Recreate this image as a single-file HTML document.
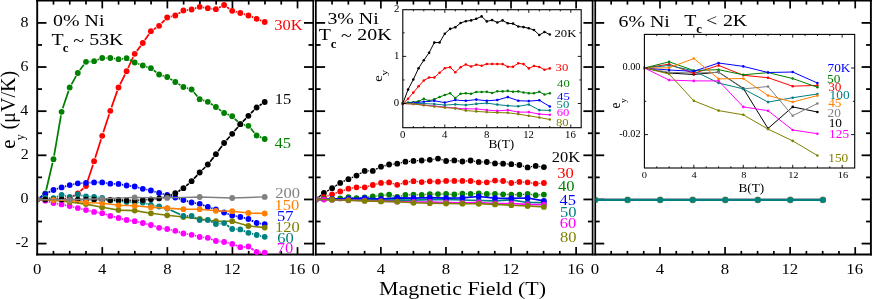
<!DOCTYPE html>
<html><head><meta charset="utf-8"><title>Nernst signal vs magnetic field</title>
<style>
html,body{margin:0;padding:0;background:#fff;}
body{width:872px;height:299px;overflow:hidden;font-family:"Liberation Serif",serif;}
svg{display:block;font-family:"Liberation Serif",serif;will-change:transform;}
svg text{white-space:pre;}
</style></head><body>
<svg width="872" height="299" viewBox="0 0 872 299">
<rect x="0" y="0" width="872" height="299" fill="#ffffff"/>
<defs><clipPath id="cp1"><rect x="38.10" y="2" width="274.30" height="253.50"/></clipPath><clipPath id="cp2"><rect x="316.70" y="2" width="275.10" height="253.50"/></clipPath><clipPath id="cp3"><rect x="595.80" y="2" width="274.20" height="253.50"/></clipPath></defs>
<line x1="53.47" y1="254.50" x2="53.47" y2="250.90" stroke="#000" stroke-width="1.7"/>
<line x1="53.47" y1="1.00" x2="53.47" y2="4.60" stroke="#000" stroke-width="1.7"/>
<line x1="69.74" y1="254.50" x2="69.74" y2="250.90" stroke="#000" stroke-width="1.7"/>
<line x1="69.74" y1="1.00" x2="69.74" y2="4.60" stroke="#000" stroke-width="1.7"/>
<line x1="86.01" y1="254.50" x2="86.01" y2="250.90" stroke="#000" stroke-width="1.7"/>
<line x1="86.01" y1="1.00" x2="86.01" y2="4.60" stroke="#000" stroke-width="1.7"/>
<line x1="102.28" y1="254.50" x2="102.28" y2="247.10" stroke="#000" stroke-width="1.7"/>
<line x1="102.28" y1="1.00" x2="102.28" y2="8.40" stroke="#000" stroke-width="1.7"/>
<line x1="118.55" y1="254.50" x2="118.55" y2="250.90" stroke="#000" stroke-width="1.7"/>
<line x1="118.55" y1="1.00" x2="118.55" y2="4.60" stroke="#000" stroke-width="1.7"/>
<line x1="134.82" y1="254.50" x2="134.82" y2="250.90" stroke="#000" stroke-width="1.7"/>
<line x1="134.82" y1="1.00" x2="134.82" y2="4.60" stroke="#000" stroke-width="1.7"/>
<line x1="151.09" y1="254.50" x2="151.09" y2="250.90" stroke="#000" stroke-width="1.7"/>
<line x1="151.09" y1="1.00" x2="151.09" y2="4.60" stroke="#000" stroke-width="1.7"/>
<line x1="167.36" y1="254.50" x2="167.36" y2="247.10" stroke="#000" stroke-width="1.7"/>
<line x1="167.36" y1="1.00" x2="167.36" y2="8.40" stroke="#000" stroke-width="1.7"/>
<line x1="183.63" y1="254.50" x2="183.63" y2="250.90" stroke="#000" stroke-width="1.7"/>
<line x1="183.63" y1="1.00" x2="183.63" y2="4.60" stroke="#000" stroke-width="1.7"/>
<line x1="199.90" y1="254.50" x2="199.90" y2="250.90" stroke="#000" stroke-width="1.7"/>
<line x1="199.90" y1="1.00" x2="199.90" y2="4.60" stroke="#000" stroke-width="1.7"/>
<line x1="216.17" y1="254.50" x2="216.17" y2="250.90" stroke="#000" stroke-width="1.7"/>
<line x1="216.17" y1="1.00" x2="216.17" y2="4.60" stroke="#000" stroke-width="1.7"/>
<line x1="232.44" y1="254.50" x2="232.44" y2="247.10" stroke="#000" stroke-width="1.7"/>
<line x1="232.44" y1="1.00" x2="232.44" y2="8.40" stroke="#000" stroke-width="1.7"/>
<line x1="248.71" y1="254.50" x2="248.71" y2="250.90" stroke="#000" stroke-width="1.7"/>
<line x1="248.71" y1="1.00" x2="248.71" y2="4.60" stroke="#000" stroke-width="1.7"/>
<line x1="264.98" y1="254.50" x2="264.98" y2="250.90" stroke="#000" stroke-width="1.7"/>
<line x1="264.98" y1="1.00" x2="264.98" y2="4.60" stroke="#000" stroke-width="1.7"/>
<line x1="281.25" y1="254.50" x2="281.25" y2="250.90" stroke="#000" stroke-width="1.7"/>
<line x1="281.25" y1="1.00" x2="281.25" y2="4.60" stroke="#000" stroke-width="1.7"/>
<line x1="297.52" y1="254.50" x2="297.52" y2="247.10" stroke="#000" stroke-width="1.7"/>
<line x1="297.52" y1="1.00" x2="297.52" y2="8.40" stroke="#000" stroke-width="1.7"/>
<line x1="37.20" y1="243.59" x2="46.50" y2="243.59" stroke="#000" stroke-width="1.8"/>
<line x1="313.30" y1="243.59" x2="304.00" y2="243.59" stroke="#000" stroke-width="1.8"/>
<line x1="37.20" y1="221.52" x2="42.00" y2="221.52" stroke="#000" stroke-width="1.8"/>
<line x1="313.30" y1="221.52" x2="308.50" y2="221.52" stroke="#000" stroke-width="1.8"/>
<line x1="37.20" y1="199.45" x2="46.50" y2="199.45" stroke="#000" stroke-width="1.8"/>
<line x1="313.30" y1="199.45" x2="304.00" y2="199.45" stroke="#000" stroke-width="1.8"/>
<line x1="37.20" y1="177.38" x2="42.00" y2="177.38" stroke="#000" stroke-width="1.8"/>
<line x1="313.30" y1="177.38" x2="308.50" y2="177.38" stroke="#000" stroke-width="1.8"/>
<line x1="37.20" y1="155.31" x2="46.50" y2="155.31" stroke="#000" stroke-width="1.8"/>
<line x1="313.30" y1="155.31" x2="304.00" y2="155.31" stroke="#000" stroke-width="1.8"/>
<line x1="37.20" y1="133.24" x2="42.00" y2="133.24" stroke="#000" stroke-width="1.8"/>
<line x1="313.30" y1="133.24" x2="308.50" y2="133.24" stroke="#000" stroke-width="1.8"/>
<line x1="37.20" y1="111.17" x2="46.50" y2="111.17" stroke="#000" stroke-width="1.8"/>
<line x1="313.30" y1="111.17" x2="304.00" y2="111.17" stroke="#000" stroke-width="1.8"/>
<line x1="37.20" y1="89.10" x2="42.00" y2="89.10" stroke="#000" stroke-width="1.8"/>
<line x1="313.30" y1="89.10" x2="308.50" y2="89.10" stroke="#000" stroke-width="1.8"/>
<line x1="37.20" y1="67.03" x2="46.50" y2="67.03" stroke="#000" stroke-width="1.8"/>
<line x1="313.30" y1="67.03" x2="304.00" y2="67.03" stroke="#000" stroke-width="1.8"/>
<line x1="37.20" y1="44.96" x2="42.00" y2="44.96" stroke="#000" stroke-width="1.8"/>
<line x1="313.30" y1="44.96" x2="308.50" y2="44.96" stroke="#000" stroke-width="1.8"/>
<line x1="37.20" y1="22.89" x2="46.50" y2="22.89" stroke="#000" stroke-width="1.8"/>
<line x1="313.30" y1="22.89" x2="304.00" y2="22.89" stroke="#000" stroke-width="1.8"/>
<line x1="37.20" y1="0.00" x2="37.20" y2="255.40" stroke="#000" stroke-width="1.9"/>
<line x1="313.25" y1="0.00" x2="313.25" y2="255.40" stroke="#000" stroke-width="1.7"/>
<line x1="36.20" y1="0.75" x2="314.30" y2="0.75" stroke="#000" stroke-width="1.5"/>
<line x1="36.20" y1="254.50" x2="314.30" y2="254.50" stroke="#000" stroke-width="1.9"/>
<text transform="translate(33.00,274.00) scale(0.1680,0.1550)" font-size="100" fill="#000">0</text>
<text transform="translate(98.04,274.00) scale(0.1680,0.1550)" font-size="100" fill="#000">4</text>
<text transform="translate(163.16,274.00) scale(0.1680,0.1550)" font-size="100" fill="#000">8</text>
<text transform="translate(223.75,274.00) scale(0.1680,0.1550)" font-size="100" fill="#000">12</text>
<text transform="translate(288.62,274.00) scale(0.1680,0.1550)" font-size="100" fill="#000">16</text>
<line x1="332.07" y1="254.50" x2="332.07" y2="250.90" stroke="#000" stroke-width="1.7"/>
<line x1="332.07" y1="1.00" x2="332.07" y2="4.60" stroke="#000" stroke-width="1.7"/>
<line x1="348.34" y1="254.50" x2="348.34" y2="250.90" stroke="#000" stroke-width="1.7"/>
<line x1="348.34" y1="1.00" x2="348.34" y2="4.60" stroke="#000" stroke-width="1.7"/>
<line x1="364.61" y1="254.50" x2="364.61" y2="250.90" stroke="#000" stroke-width="1.7"/>
<line x1="364.61" y1="1.00" x2="364.61" y2="4.60" stroke="#000" stroke-width="1.7"/>
<line x1="380.88" y1="254.50" x2="380.88" y2="247.10" stroke="#000" stroke-width="1.7"/>
<line x1="380.88" y1="1.00" x2="380.88" y2="8.40" stroke="#000" stroke-width="1.7"/>
<line x1="397.15" y1="254.50" x2="397.15" y2="250.90" stroke="#000" stroke-width="1.7"/>
<line x1="397.15" y1="1.00" x2="397.15" y2="4.60" stroke="#000" stroke-width="1.7"/>
<line x1="413.42" y1="254.50" x2="413.42" y2="250.90" stroke="#000" stroke-width="1.7"/>
<line x1="413.42" y1="1.00" x2="413.42" y2="4.60" stroke="#000" stroke-width="1.7"/>
<line x1="429.69" y1="254.50" x2="429.69" y2="250.90" stroke="#000" stroke-width="1.7"/>
<line x1="429.69" y1="1.00" x2="429.69" y2="4.60" stroke="#000" stroke-width="1.7"/>
<line x1="445.96" y1="254.50" x2="445.96" y2="247.10" stroke="#000" stroke-width="1.7"/>
<line x1="445.96" y1="1.00" x2="445.96" y2="8.40" stroke="#000" stroke-width="1.7"/>
<line x1="462.23" y1="254.50" x2="462.23" y2="250.90" stroke="#000" stroke-width="1.7"/>
<line x1="462.23" y1="1.00" x2="462.23" y2="4.60" stroke="#000" stroke-width="1.7"/>
<line x1="478.50" y1="254.50" x2="478.50" y2="250.90" stroke="#000" stroke-width="1.7"/>
<line x1="478.50" y1="1.00" x2="478.50" y2="4.60" stroke="#000" stroke-width="1.7"/>
<line x1="494.77" y1="254.50" x2="494.77" y2="250.90" stroke="#000" stroke-width="1.7"/>
<line x1="494.77" y1="1.00" x2="494.77" y2="4.60" stroke="#000" stroke-width="1.7"/>
<line x1="511.04" y1="254.50" x2="511.04" y2="247.10" stroke="#000" stroke-width="1.7"/>
<line x1="511.04" y1="1.00" x2="511.04" y2="8.40" stroke="#000" stroke-width="1.7"/>
<line x1="527.31" y1="254.50" x2="527.31" y2="250.90" stroke="#000" stroke-width="1.7"/>
<line x1="527.31" y1="1.00" x2="527.31" y2="4.60" stroke="#000" stroke-width="1.7"/>
<line x1="543.58" y1="254.50" x2="543.58" y2="250.90" stroke="#000" stroke-width="1.7"/>
<line x1="543.58" y1="1.00" x2="543.58" y2="4.60" stroke="#000" stroke-width="1.7"/>
<line x1="559.85" y1="254.50" x2="559.85" y2="250.90" stroke="#000" stroke-width="1.7"/>
<line x1="559.85" y1="1.00" x2="559.85" y2="4.60" stroke="#000" stroke-width="1.7"/>
<line x1="576.12" y1="254.50" x2="576.12" y2="247.10" stroke="#000" stroke-width="1.7"/>
<line x1="576.12" y1="1.00" x2="576.12" y2="8.40" stroke="#000" stroke-width="1.7"/>
<line x1="315.80" y1="243.59" x2="325.10" y2="243.59" stroke="#000" stroke-width="1.8"/>
<line x1="592.70" y1="243.59" x2="583.40" y2="243.59" stroke="#000" stroke-width="1.8"/>
<line x1="315.80" y1="221.52" x2="320.60" y2="221.52" stroke="#000" stroke-width="1.8"/>
<line x1="592.70" y1="221.52" x2="587.90" y2="221.52" stroke="#000" stroke-width="1.8"/>
<line x1="315.80" y1="199.45" x2="325.10" y2="199.45" stroke="#000" stroke-width="1.8"/>
<line x1="592.70" y1="199.45" x2="583.40" y2="199.45" stroke="#000" stroke-width="1.8"/>
<line x1="315.80" y1="177.38" x2="320.60" y2="177.38" stroke="#000" stroke-width="1.8"/>
<line x1="592.70" y1="177.38" x2="587.90" y2="177.38" stroke="#000" stroke-width="1.8"/>
<line x1="315.80" y1="155.31" x2="325.10" y2="155.31" stroke="#000" stroke-width="1.8"/>
<line x1="592.70" y1="155.31" x2="583.40" y2="155.31" stroke="#000" stroke-width="1.8"/>
<line x1="315.80" y1="133.24" x2="320.60" y2="133.24" stroke="#000" stroke-width="1.8"/>
<line x1="592.70" y1="133.24" x2="587.90" y2="133.24" stroke="#000" stroke-width="1.8"/>
<line x1="315.80" y1="111.17" x2="325.10" y2="111.17" stroke="#000" stroke-width="1.8"/>
<line x1="592.70" y1="111.17" x2="583.40" y2="111.17" stroke="#000" stroke-width="1.8"/>
<line x1="315.80" y1="89.10" x2="320.60" y2="89.10" stroke="#000" stroke-width="1.8"/>
<line x1="592.70" y1="89.10" x2="587.90" y2="89.10" stroke="#000" stroke-width="1.8"/>
<line x1="315.80" y1="67.03" x2="325.10" y2="67.03" stroke="#000" stroke-width="1.8"/>
<line x1="592.70" y1="67.03" x2="583.40" y2="67.03" stroke="#000" stroke-width="1.8"/>
<line x1="315.80" y1="44.96" x2="320.60" y2="44.96" stroke="#000" stroke-width="1.8"/>
<line x1="592.70" y1="44.96" x2="587.90" y2="44.96" stroke="#000" stroke-width="1.8"/>
<line x1="315.80" y1="22.89" x2="325.10" y2="22.89" stroke="#000" stroke-width="1.8"/>
<line x1="592.70" y1="22.89" x2="583.40" y2="22.89" stroke="#000" stroke-width="1.8"/>
<line x1="315.85" y1="0.00" x2="315.85" y2="255.40" stroke="#000" stroke-width="1.7"/>
<line x1="592.60" y1="0.00" x2="592.60" y2="255.40" stroke="#000" stroke-width="1.7"/>
<line x1="314.80" y1="0.75" x2="593.70" y2="0.75" stroke="#000" stroke-width="1.5"/>
<line x1="314.80" y1="254.50" x2="593.70" y2="254.50" stroke="#000" stroke-width="1.9"/>
<text transform="translate(311.60,274.00) scale(0.1680,0.1550)" font-size="100" fill="#000">0</text>
<text transform="translate(376.64,274.00) scale(0.1680,0.1550)" font-size="100" fill="#000">4</text>
<text transform="translate(441.76,274.00) scale(0.1680,0.1550)" font-size="100" fill="#000">8</text>
<text transform="translate(502.35,274.00) scale(0.1680,0.1550)" font-size="100" fill="#000">12</text>
<text transform="translate(567.22,274.00) scale(0.1680,0.1550)" font-size="100" fill="#000">16</text>
<line x1="611.17" y1="254.50" x2="611.17" y2="250.90" stroke="#000" stroke-width="1.7"/>
<line x1="611.17" y1="1.00" x2="611.17" y2="4.60" stroke="#000" stroke-width="1.7"/>
<line x1="627.44" y1="254.50" x2="627.44" y2="250.90" stroke="#000" stroke-width="1.7"/>
<line x1="627.44" y1="1.00" x2="627.44" y2="4.60" stroke="#000" stroke-width="1.7"/>
<line x1="643.71" y1="254.50" x2="643.71" y2="250.90" stroke="#000" stroke-width="1.7"/>
<line x1="643.71" y1="1.00" x2="643.71" y2="4.60" stroke="#000" stroke-width="1.7"/>
<line x1="659.98" y1="254.50" x2="659.98" y2="247.10" stroke="#000" stroke-width="1.7"/>
<line x1="659.98" y1="1.00" x2="659.98" y2="8.40" stroke="#000" stroke-width="1.7"/>
<line x1="676.25" y1="254.50" x2="676.25" y2="250.90" stroke="#000" stroke-width="1.7"/>
<line x1="676.25" y1="1.00" x2="676.25" y2="4.60" stroke="#000" stroke-width="1.7"/>
<line x1="692.52" y1="254.50" x2="692.52" y2="250.90" stroke="#000" stroke-width="1.7"/>
<line x1="692.52" y1="1.00" x2="692.52" y2="4.60" stroke="#000" stroke-width="1.7"/>
<line x1="708.79" y1="254.50" x2="708.79" y2="250.90" stroke="#000" stroke-width="1.7"/>
<line x1="708.79" y1="1.00" x2="708.79" y2="4.60" stroke="#000" stroke-width="1.7"/>
<line x1="725.06" y1="254.50" x2="725.06" y2="247.10" stroke="#000" stroke-width="1.7"/>
<line x1="725.06" y1="1.00" x2="725.06" y2="8.40" stroke="#000" stroke-width="1.7"/>
<line x1="741.33" y1="254.50" x2="741.33" y2="250.90" stroke="#000" stroke-width="1.7"/>
<line x1="741.33" y1="1.00" x2="741.33" y2="4.60" stroke="#000" stroke-width="1.7"/>
<line x1="757.60" y1="254.50" x2="757.60" y2="250.90" stroke="#000" stroke-width="1.7"/>
<line x1="757.60" y1="1.00" x2="757.60" y2="4.60" stroke="#000" stroke-width="1.7"/>
<line x1="773.87" y1="254.50" x2="773.87" y2="250.90" stroke="#000" stroke-width="1.7"/>
<line x1="773.87" y1="1.00" x2="773.87" y2="4.60" stroke="#000" stroke-width="1.7"/>
<line x1="790.14" y1="254.50" x2="790.14" y2="247.10" stroke="#000" stroke-width="1.7"/>
<line x1="790.14" y1="1.00" x2="790.14" y2="8.40" stroke="#000" stroke-width="1.7"/>
<line x1="806.41" y1="254.50" x2="806.41" y2="250.90" stroke="#000" stroke-width="1.7"/>
<line x1="806.41" y1="1.00" x2="806.41" y2="4.60" stroke="#000" stroke-width="1.7"/>
<line x1="822.68" y1="254.50" x2="822.68" y2="250.90" stroke="#000" stroke-width="1.7"/>
<line x1="822.68" y1="1.00" x2="822.68" y2="4.60" stroke="#000" stroke-width="1.7"/>
<line x1="838.95" y1="254.50" x2="838.95" y2="250.90" stroke="#000" stroke-width="1.7"/>
<line x1="838.95" y1="1.00" x2="838.95" y2="4.60" stroke="#000" stroke-width="1.7"/>
<line x1="855.22" y1="254.50" x2="855.22" y2="247.10" stroke="#000" stroke-width="1.7"/>
<line x1="855.22" y1="1.00" x2="855.22" y2="8.40" stroke="#000" stroke-width="1.7"/>
<line x1="594.90" y1="243.59" x2="604.20" y2="243.59" stroke="#000" stroke-width="1.8"/>
<line x1="870.90" y1="243.59" x2="861.60" y2="243.59" stroke="#000" stroke-width="1.8"/>
<line x1="594.90" y1="221.52" x2="599.70" y2="221.52" stroke="#000" stroke-width="1.8"/>
<line x1="870.90" y1="221.52" x2="866.10" y2="221.52" stroke="#000" stroke-width="1.8"/>
<line x1="594.90" y1="199.45" x2="604.20" y2="199.45" stroke="#000" stroke-width="1.8"/>
<line x1="870.90" y1="199.45" x2="861.60" y2="199.45" stroke="#000" stroke-width="1.8"/>
<line x1="594.90" y1="177.38" x2="599.70" y2="177.38" stroke="#000" stroke-width="1.8"/>
<line x1="870.90" y1="177.38" x2="866.10" y2="177.38" stroke="#000" stroke-width="1.8"/>
<line x1="594.90" y1="155.31" x2="604.20" y2="155.31" stroke="#000" stroke-width="1.8"/>
<line x1="870.90" y1="155.31" x2="861.60" y2="155.31" stroke="#000" stroke-width="1.8"/>
<line x1="594.90" y1="133.24" x2="599.70" y2="133.24" stroke="#000" stroke-width="1.8"/>
<line x1="870.90" y1="133.24" x2="866.10" y2="133.24" stroke="#000" stroke-width="1.8"/>
<line x1="594.90" y1="111.17" x2="604.20" y2="111.17" stroke="#000" stroke-width="1.8"/>
<line x1="870.90" y1="111.17" x2="861.60" y2="111.17" stroke="#000" stroke-width="1.8"/>
<line x1="594.90" y1="89.10" x2="599.70" y2="89.10" stroke="#000" stroke-width="1.8"/>
<line x1="870.90" y1="89.10" x2="866.10" y2="89.10" stroke="#000" stroke-width="1.8"/>
<line x1="594.90" y1="67.03" x2="604.20" y2="67.03" stroke="#000" stroke-width="1.8"/>
<line x1="870.90" y1="67.03" x2="861.60" y2="67.03" stroke="#000" stroke-width="1.8"/>
<line x1="594.90" y1="44.96" x2="599.70" y2="44.96" stroke="#000" stroke-width="1.8"/>
<line x1="870.90" y1="44.96" x2="866.10" y2="44.96" stroke="#000" stroke-width="1.8"/>
<line x1="594.90" y1="22.89" x2="604.20" y2="22.89" stroke="#000" stroke-width="1.8"/>
<line x1="870.90" y1="22.89" x2="861.60" y2="22.89" stroke="#000" stroke-width="1.8"/>
<line x1="595.25" y1="0.00" x2="595.25" y2="255.40" stroke="#000" stroke-width="1.7"/>
<line x1="870.90" y1="0.00" x2="870.90" y2="255.40" stroke="#000" stroke-width="1.9"/>
<line x1="593.90" y1="0.75" x2="871.90" y2="0.75" stroke="#000" stroke-width="1.5"/>
<line x1="593.90" y1="254.50" x2="871.90" y2="254.50" stroke="#000" stroke-width="1.9"/>
<text transform="translate(590.70,274.00) scale(0.1680,0.1550)" font-size="100" fill="#000">0</text>
<text transform="translate(655.74,274.00) scale(0.1680,0.1550)" font-size="100" fill="#000">4</text>
<text transform="translate(720.86,274.00) scale(0.1680,0.1550)" font-size="100" fill="#000">8</text>
<text transform="translate(781.45,274.00) scale(0.1680,0.1550)" font-size="100" fill="#000">12</text>
<text transform="translate(846.32,274.00) scale(0.1680,0.1550)" font-size="100" fill="#000">16</text>
<text transform="translate(15.42,247.39) scale(0.1600,0.1500)" font-size="100" fill="#000">-2</text>
<text transform="translate(20.54,203.25) scale(0.1600,0.1500)" font-size="100" fill="#000">0</text>
<text transform="translate(20.78,159.11) scale(0.1600,0.1500)" font-size="100" fill="#000">2</text>
<text transform="translate(20.14,114.97) scale(0.1600,0.1500)" font-size="100" fill="#000">4</text>
<text transform="translate(20.38,70.83) scale(0.1600,0.1500)" font-size="100" fill="#000">6</text>
<text transform="translate(20.54,26.69) scale(0.1600,0.1500)" font-size="100" fill="#000">8</text>
<g clip-path="url(#cp1)">
<path d="M40.8,199.5L41.7,199.4M48.9,199.4L49.9,199.3M57.0,199.2L58.0,199.1M65.1,198.6L66.1,198.4M72.8,196.2L74.7,195.2M80.5,191.0L83.3,188.4M87.1,182.6L93.0,164.7M95.2,157.8L101.1,139.2M103.3,132.3L109.2,114.2M111.5,107.4L117.3,90.9M120.1,84.3L125.0,74.5M128.1,68.0L133.2,57.0M136.9,50.9L140.7,45.9M144.9,40.0L148.9,34.2M153.9,29.2L156.1,27.8M161.6,23.2L164.7,20.1M170.7,16.6L171.8,16.4M178.4,13.6L180.4,12.4M187.0,10.1L188.0,9.9M195.0,8.3L196.3,7.9M203.2,7.4L204.3,7.6M211.4,8.7L212.4,8.8M219.1,7.6L220.9,6.7M227.0,7.1L229.3,8.7M235.7,11.7L236.9,12.0M243.8,14.1L245.0,14.4M251.8,16.8L253.2,17.4M259.9,20.1L261.4,20.7" fill="none" stroke="#ff0000" stroke-width="1.75"/>
<g fill="#ff0000"><circle cx="37.2" cy="199.5" r="2.9"/><circle cx="45.3" cy="199.4" r="2.9"/><circle cx="53.5" cy="199.3" r="2.9"/><circle cx="61.6" cy="199.0" r="2.9"/><circle cx="69.7" cy="198.0" r="2.9"/><circle cx="77.8" cy="193.4" r="2.9"/><circle cx="86.0" cy="186.0" r="2.9"/><circle cx="94.1" cy="161.2" r="2.9"/><circle cx="102.2" cy="135.8" r="2.9"/><circle cx="110.3" cy="110.8" r="2.9"/><circle cx="118.5" cy="87.5" r="2.9"/><circle cx="126.6" cy="71.2" r="2.9"/><circle cx="134.7" cy="53.8" r="2.9"/><circle cx="142.8" cy="43.0" r="2.9"/><circle cx="150.9" cy="31.2" r="2.9"/><circle cx="159.1" cy="25.8" r="2.9"/><circle cx="167.2" cy="17.5" r="2.9"/><circle cx="175.3" cy="15.5" r="2.9"/><circle cx="183.4" cy="10.5" r="2.9"/><circle cx="191.6" cy="9.5" r="2.9"/><circle cx="199.7" cy="6.8" r="2.9"/><circle cx="207.8" cy="8.2" r="2.9"/><circle cx="215.9" cy="9.2" r="2.9"/><circle cx="224.1" cy="5.0" r="2.9"/><circle cx="232.2" cy="10.8" r="2.9"/><circle cx="240.3" cy="13.0" r="2.9"/><circle cx="248.4" cy="15.5" r="2.9"/><circle cx="256.6" cy="18.8" r="2.9"/><circle cx="264.7" cy="22.0" r="2.9"/></g>
<path d="M40.1,197.4L42.4,195.6M46.2,190.0L52.6,162.8M54.1,155.7L61.0,115.3M62.7,108.3L68.6,90.9M71.5,84.4L76.1,76.1M79.9,70.1L83.8,64.7M89.5,61.5L90.5,61.5M97.4,59.9L98.9,59.3M105.8,58.0L106.7,58.0M113.9,58.5L114.9,58.7M122.0,58.8L123.0,58.7M129.8,59.9L131.5,60.8M138.1,63.7L139.4,64.3M146.2,66.7L147.5,67.1M153.8,70.4L156.2,72.3M162.5,75.6L163.8,75.9M170.3,78.9L172.3,80.1M178.4,83.9L180.4,85.1M186.9,88.1L188.1,88.4M193.9,92.3L197.4,96.5M203.1,100.3L204.4,100.7M210.8,103.7L212.9,105.0M218.8,109.1L221.2,110.9M227.4,114.3L228.9,114.9M234.8,118.8L237.8,121.7M243.9,124.9L244.9,125.1M250.8,128.5L254.3,132.7M259.9,136.9L261.4,137.6" fill="none" stroke="#008000" stroke-width="1.75"/>
<g fill="#008000"><circle cx="37.2" cy="199.5" r="2.9"/><circle cx="45.3" cy="193.5" r="2.9"/><circle cx="53.5" cy="159.2" r="2.9"/><circle cx="61.6" cy="111.8" r="2.9"/><circle cx="69.7" cy="87.5" r="2.9"/><circle cx="77.8" cy="73.0" r="2.9"/><circle cx="86.0" cy="61.8" r="2.9"/><circle cx="94.1" cy="61.2" r="2.9"/><circle cx="102.2" cy="58.0" r="2.9"/><circle cx="110.3" cy="58.0" r="2.9"/><circle cx="118.5" cy="59.2" r="2.9"/><circle cx="126.6" cy="58.2" r="2.9"/><circle cx="134.7" cy="62.5" r="2.9"/><circle cx="142.8" cy="65.5" r="2.9"/><circle cx="150.9" cy="68.2" r="2.9"/><circle cx="159.1" cy="74.5" r="2.9"/><circle cx="167.2" cy="77.0" r="2.9"/><circle cx="175.3" cy="82.0" r="2.9"/><circle cx="183.4" cy="87.0" r="2.9"/><circle cx="191.6" cy="89.5" r="2.9"/><circle cx="199.7" cy="99.2" r="2.9"/><circle cx="207.8" cy="101.8" r="2.9"/><circle cx="215.9" cy="107.0" r="2.9"/><circle cx="224.1" cy="113.0" r="2.9"/><circle cx="232.2" cy="116.2" r="2.9"/><circle cx="240.3" cy="124.2" r="2.9"/><circle cx="248.4" cy="125.8" r="2.9"/><circle cx="256.6" cy="135.5" r="2.9"/><circle cx="264.7" cy="139.0" r="2.9"/></g>
<path d="M40.2,197.5L42.3,196.1M48.5,192.5L50.2,191.6M56.9,188.9L58.1,188.5M65.0,186.4L66.2,186.1M73.2,184.3L74.3,184.1M81.4,183.1L82.4,183.1M89.5,182.7L90.5,182.6M97.7,182.4L98.6,182.4M105.8,183.0L106.8,183.1M113.9,183.8L114.9,183.8M122.0,184.6L123.0,184.8M130.1,185.9L131.1,186.1M138.2,187.5L139.4,187.8M146.3,189.5L147.4,189.7M154.4,191.6L155.6,191.9M162.6,193.9L163.7,194.1M170.6,196.1L171.9,196.4M178.8,198.6L180.0,198.9M186.9,201.1L188.1,201.4M195.1,203.0L196.1,203.2M203.0,205.1L204.5,205.7M211.3,208.1L212.5,208.4M219.3,210.7L220.7,211.3M227.5,213.7L228.8,214.3M235.7,216.2L236.8,216.3M243.8,217.9L245.0,218.1M251.7,220.6L253.3,221.4M260.1,223.5L261.1,223.6" fill="none" stroke="#0000ff" stroke-width="1.75"/>
<g fill="#0000ff"><circle cx="37.2" cy="199.5" r="2.9"/><circle cx="45.3" cy="194.1" r="2.9"/><circle cx="53.5" cy="190.0" r="2.9"/><circle cx="61.6" cy="187.4" r="2.9"/><circle cx="69.7" cy="185.1" r="2.9"/><circle cx="77.8" cy="183.3" r="2.9"/><circle cx="86.0" cy="182.9" r="2.9"/><circle cx="94.1" cy="182.4" r="2.9"/><circle cx="102.2" cy="182.4" r="2.9"/><circle cx="110.3" cy="183.7" r="2.9"/><circle cx="118.5" cy="183.9" r="2.9"/><circle cx="126.6" cy="185.5" r="2.9"/><circle cx="134.7" cy="186.5" r="2.9"/><circle cx="142.8" cy="188.8" r="2.9"/><circle cx="150.9" cy="190.5" r="2.9"/><circle cx="159.1" cy="193.0" r="2.9"/><circle cx="167.2" cy="195.0" r="2.9"/><circle cx="175.3" cy="197.5" r="2.9"/><circle cx="183.4" cy="200.0" r="2.9"/><circle cx="191.6" cy="202.5" r="2.9"/><circle cx="199.7" cy="203.8" r="2.9"/><circle cx="207.8" cy="207.0" r="2.9"/><circle cx="215.9" cy="209.5" r="2.9"/><circle cx="224.1" cy="212.5" r="2.9"/><circle cx="232.2" cy="215.5" r="2.9"/><circle cx="240.3" cy="217.0" r="2.9"/><circle cx="248.4" cy="219.0" r="2.9"/><circle cx="256.6" cy="223.0" r="2.9"/><circle cx="264.7" cy="224.1" r="2.9"/></g>
<path d="M40.8,200.0L41.8,200.2M48.8,201.7L50.0,202.0M57.0,203.6L58.0,203.8M65.1,205.1L66.2,205.4M73.2,207.0L74.3,207.2M81.3,209.0L82.5,209.2M89.5,210.9L90.6,211.1M97.6,212.5L98.6,212.6M105.6,214.3L106.9,214.8M113.8,216.8L115.0,217.1M121.9,218.9L123.1,219.1M130.1,220.5L131.1,220.7M138.2,222.0L139.3,222.2M146.3,223.9L147.5,224.1M154.4,226.2L155.7,226.6M162.6,228.3L163.6,228.5M170.7,229.8L171.8,230.0M178.7,231.9L180.0,232.3M187.0,234.0L188.0,234.2M195.0,235.7L196.2,236.0M203.3,237.3L204.2,237.4M211.2,239.1L212.6,239.7M219.5,241.4L220.5,241.6M227.6,242.9L228.7,243.1M235.5,245.3L237.0,245.9M243.9,246.9L244.9,246.8M251.4,248.5L253.6,250.0M260.2,252.3L261.1,252.3" fill="none" stroke="#ff00ff" stroke-width="1.75"/>
<g fill="#ff00ff"><circle cx="37.2" cy="199.5" r="2.9"/><circle cx="45.3" cy="200.7" r="2.9"/><circle cx="53.5" cy="203.0" r="2.9"/><circle cx="61.6" cy="204.4" r="2.9"/><circle cx="69.7" cy="206.1" r="2.9"/><circle cx="77.8" cy="208.1" r="2.9"/><circle cx="86.0" cy="210.1" r="2.9"/><circle cx="94.1" cy="211.9" r="2.9"/><circle cx="102.2" cy="213.2" r="2.9"/><circle cx="110.3" cy="215.9" r="2.9"/><circle cx="118.5" cy="218.0" r="2.9"/><circle cx="126.6" cy="220.0" r="2.9"/><circle cx="134.7" cy="221.2" r="2.9"/><circle cx="142.8" cy="223.0" r="2.9"/><circle cx="150.9" cy="225.0" r="2.9"/><circle cx="159.1" cy="227.8" r="2.9"/><circle cx="167.2" cy="229.0" r="2.9"/><circle cx="175.3" cy="230.8" r="2.9"/><circle cx="183.4" cy="233.5" r="2.9"/><circle cx="191.6" cy="234.8" r="2.9"/><circle cx="199.7" cy="237.0" r="2.9"/><circle cx="207.8" cy="237.8" r="2.9"/><circle cx="215.9" cy="241.0" r="2.9"/><circle cx="224.1" cy="242.0" r="2.9"/><circle cx="232.2" cy="244.0" r="2.9"/><circle cx="240.3" cy="247.2" r="2.9"/><circle cx="248.4" cy="246.5" r="2.9"/><circle cx="256.6" cy="252.0" r="2.9"/><circle cx="264.7" cy="252.6" r="2.9"/></g>
<polyline points="37.2,199.5 53.5,200.3 69.7,202.0 86.0,204.1 102.2,207.3 118.5,210.1 134.7,210.6 150.9,213.3 167.2,215.3 183.4,217.0 199.7,219.0 215.9,221.2 232.2,221.2 248.4,226.0 264.7,227.6" fill="none" stroke="#808000" stroke-width="1.6" stroke-linejoin="round"/>
<g fill="#808000"><circle cx="37.2" cy="199.5" r="2.9"/><circle cx="53.5" cy="200.3" r="2.9"/><circle cx="69.7" cy="202.0" r="2.9"/><circle cx="86.0" cy="204.1" r="2.9"/><circle cx="102.2" cy="207.3" r="2.9"/><circle cx="118.5" cy="210.1" r="2.9"/><circle cx="134.7" cy="210.6" r="2.9"/><circle cx="150.9" cy="213.3" r="2.9"/><circle cx="167.2" cy="215.3" r="2.9"/><circle cx="183.4" cy="217.0" r="2.9"/><circle cx="199.7" cy="219.0" r="2.9"/><circle cx="215.9" cy="221.2" r="2.9"/><circle cx="232.2" cy="221.2" r="2.9"/><circle cx="248.4" cy="226.0" r="2.9"/><circle cx="264.7" cy="227.6" r="2.9"/></g>
<path d="M40.7,198.8L41.8,198.7M48.9,198.1L49.9,198.1M56.8,196.9L58.2,196.3M65.1,195.9L66.2,196.1M73.1,195.9L74.4,195.6M81.3,195.4L82.5,195.6M89.5,196.6L90.5,196.7M97.6,197.3L98.6,197.5M105.6,199.1L106.9,199.4M113.9,200.6L114.9,200.7M122.0,201.3L123.0,201.5M130.2,202.1L131.1,202.1M138.3,202.3L139.2,202.4M146.3,203.6L147.5,203.9M154.5,205.7L155.5,205.8M162.6,207.4L163.7,207.6M170.5,210.0L180.2,214.5M187.0,216.0L188.0,216.0M194.8,217.6L196.5,218.4M203.3,220.0L204.2,220.0M211.1,221.6L212.7,222.4M219.5,223.6L220.5,223.5M227.0,225.2L229.3,226.9M235.8,229.2L236.7,229.2M243.6,230.8L245.1,231.4M251.9,233.7L253.1,234.1M260.1,235.8L261.2,236.0" fill="none" stroke="#008080" stroke-width="1.8"/>
<g fill="#008080"><circle cx="37.2" cy="199.5" r="2.9"/><circle cx="45.3" cy="198.0" r="2.9"/><circle cx="53.5" cy="198.2" r="2.9"/><circle cx="61.6" cy="195.0" r="2.9"/><circle cx="69.7" cy="197.0" r="2.9"/><circle cx="77.8" cy="194.5" r="2.9"/><circle cx="86.0" cy="196.5" r="2.9"/><circle cx="94.1" cy="196.8" r="2.9"/><circle cx="102.2" cy="198.0" r="2.9"/><circle cx="110.3" cy="200.5" r="2.9"/><circle cx="118.5" cy="200.8" r="2.9"/><circle cx="126.6" cy="202.0" r="2.9"/><circle cx="134.7" cy="202.2" r="2.9"/><circle cx="142.8" cy="202.5" r="2.9"/><circle cx="150.9" cy="205.0" r="2.9"/><circle cx="159.1" cy="206.5" r="2.9"/><circle cx="167.2" cy="208.5" r="2.9"/><circle cx="183.4" cy="216.0" r="2.9"/><circle cx="191.6" cy="216.0" r="2.9"/><circle cx="199.7" cy="220.0" r="2.9"/><circle cx="207.8" cy="220.0" r="2.9"/><circle cx="215.9" cy="224.0" r="2.9"/><circle cx="224.1" cy="223.1" r="2.9"/><circle cx="232.2" cy="229.0" r="2.9"/><circle cx="240.3" cy="229.4" r="2.9"/><circle cx="248.4" cy="232.8" r="2.9"/><circle cx="256.6" cy="235.0" r="2.9"/><circle cx="264.7" cy="236.8" r="2.9"/></g>
<path d="M40.8,199.5L41.7,199.6M48.9,199.6L49.9,199.6M57.1,199.6L58.0,199.6M65.2,199.6L66.1,199.6M73.3,199.6L74.2,199.6M81.4,199.6L82.4,199.6M89.5,199.6L90.5,199.6M97.7,199.7L98.6,199.7M105.8,199.9L106.7,199.9M113.9,200.0L114.9,200.0M122.0,200.2L123.0,200.2M130.2,200.4L131.1,200.4M138.3,200.2L139.2,200.2M146.4,199.7L147.4,199.6M154.5,198.9L155.5,198.8M162.6,197.6L163.7,197.3M170.5,195.2L172.0,194.6M178.4,191.4L180.4,190.1M186.2,185.9L188.8,183.6M194.0,178.6L197.3,175.1M202.3,170.0L205.3,167.0M210.1,161.7L213.7,157.1M218.1,151.3L222.0,145.9M226.5,140.3L229.8,136.5M234.5,131.0L238.0,127.0M242.8,121.6L246.0,118.4M251.0,113.2L254.0,110.1M259.6,105.5L261.7,104.0" fill="none" stroke="#000000" stroke-width="1.75"/>
<g fill="#000000"><circle cx="37.2" cy="199.5" r="2.9"/><circle cx="45.3" cy="199.6" r="2.9"/><circle cx="53.5" cy="199.6" r="2.9"/><circle cx="61.6" cy="199.6" r="2.9"/><circle cx="69.7" cy="199.6" r="2.9"/><circle cx="77.8" cy="199.6" r="2.9"/><circle cx="86.0" cy="199.6" r="2.9"/><circle cx="94.1" cy="199.6" r="2.9"/><circle cx="102.2" cy="199.8" r="2.9"/><circle cx="110.3" cy="200.0" r="2.9"/><circle cx="118.5" cy="200.0" r="2.9"/><circle cx="126.6" cy="200.4" r="2.9"/><circle cx="134.7" cy="200.4" r="2.9"/><circle cx="142.8" cy="200.0" r="2.9"/><circle cx="150.9" cy="199.3" r="2.9"/><circle cx="159.1" cy="198.4" r="2.9"/><circle cx="167.2" cy="196.5" r="2.9"/><circle cx="175.3" cy="193.2" r="2.9"/><circle cx="183.4" cy="188.2" r="2.9"/><circle cx="191.6" cy="181.2" r="2.9"/><circle cx="199.7" cy="172.5" r="2.9"/><circle cx="207.8" cy="164.5" r="2.9"/><circle cx="215.9" cy="154.2" r="2.9"/><circle cx="224.1" cy="143.0" r="2.9"/><circle cx="232.2" cy="133.8" r="2.9"/><circle cx="240.3" cy="124.2" r="2.9"/><circle cx="248.4" cy="115.8" r="2.9"/><circle cx="256.6" cy="107.5" r="2.9"/><circle cx="264.7" cy="102.0" r="2.9"/></g>
<polyline points="37.2,199.5 53.5,200.0 69.7,200.5 86.0,202.5 102.2,203.3 118.5,205.3 134.7,205.8 150.9,207.2 167.2,208.1 183.4,209.2 199.7,209.2 215.9,210.8 232.2,211.2 248.4,213.0 264.7,213.5" fill="none" stroke="#ff8000" stroke-width="1.6" stroke-linejoin="round"/>
<g fill="#ff8000"><circle cx="37.2" cy="199.5" r="2.9"/><circle cx="53.5" cy="200.0" r="2.9"/><circle cx="69.7" cy="200.5" r="2.9"/><circle cx="86.0" cy="202.5" r="2.9"/><circle cx="102.2" cy="203.3" r="2.9"/><circle cx="118.5" cy="205.3" r="2.9"/><circle cx="134.7" cy="205.8" r="2.9"/><circle cx="150.9" cy="207.2" r="2.9"/><circle cx="167.2" cy="208.1" r="2.9"/><circle cx="183.4" cy="209.2" r="2.9"/><circle cx="199.7" cy="209.2" r="2.9"/><circle cx="215.9" cy="210.8" r="2.9"/><circle cx="232.2" cy="211.2" r="2.9"/><circle cx="248.4" cy="213.0" r="2.9"/><circle cx="264.7" cy="213.5" r="2.9"/></g>
<polyline points="37.2,199.6 69.7,199.8 102.2,198.8 134.7,197.4 167.2,197.9 199.7,197.0 232.2,198.0 264.7,196.9" fill="none" stroke="#808080" stroke-width="1.4" stroke-linejoin="round"/>
<g fill="#808080"><circle cx="37.2" cy="199.6" r="2.9"/><circle cx="69.7" cy="199.8" r="2.9"/><circle cx="102.2" cy="198.8" r="2.9"/><circle cx="134.7" cy="197.4" r="2.9"/><circle cx="167.2" cy="197.9" r="2.9"/><circle cx="199.7" cy="197.0" r="2.9"/><circle cx="232.2" cy="198.0" r="2.9"/><circle cx="264.7" cy="196.9" r="2.9"/></g>
</g>
<g clip-path="url(#cp2)">
<path d="M318.6,197.2L321.1,195.1M327.1,191.1L329.0,190.0M335.1,186.2L337.2,184.9M343.5,181.4L345.1,180.7M351.7,177.7L353.2,177.1M359.6,173.8L361.6,172.7M368.3,170.9L369.2,170.9M376.0,169.2L377.7,168.4M384.4,165.8L385.6,165.5M392.7,164.2L393.7,164.1M400.7,162.9L401.9,162.6M409.0,161.4L410.0,161.3M417.1,160.7L418.1,160.7M425.3,160.2L426.2,160.1M433.4,159.3L434.4,159.1M441.4,159.6L442.7,160.0M449.7,160.7L450.7,160.6M457.8,160.9L458.8,161.0M466.0,161.1L467.0,160.9M474.1,161.1L475.1,161.3M482.3,161.9L483.2,161.9M490.4,162.6L491.4,162.8M498.6,163.5L499.5,163.5M506.7,163.9L507.7,164.0M514.9,164.6L515.8,164.7M522.9,166.0L524.1,166.4M531.1,166.7L532.2,166.6M539.3,166.5L540.3,166.6" fill="none" stroke="#000000" stroke-width="1.3"/>
<g fill="#000000"><circle cx="315.8" cy="199.4" r="2.9"/><circle cx="323.9" cy="192.9" r="2.9"/><circle cx="332.1" cy="188.2" r="2.9"/><circle cx="340.2" cy="182.9" r="2.9"/><circle cx="348.4" cy="179.2" r="2.9"/><circle cx="356.5" cy="175.6" r="2.9"/><circle cx="364.7" cy="170.9" r="2.9"/><circle cx="372.8" cy="170.9" r="2.9"/><circle cx="381.0" cy="166.7" r="2.9"/><circle cx="389.1" cy="164.5" r="2.9"/><circle cx="397.2" cy="163.7" r="2.9"/><circle cx="405.4" cy="161.7" r="2.9"/><circle cx="413.5" cy="160.9" r="2.9"/><circle cx="421.7" cy="160.5" r="2.9"/><circle cx="429.8" cy="159.8" r="2.9"/><circle cx="438.0" cy="158.6" r="2.9"/><circle cx="446.1" cy="161.0" r="2.9"/><circle cx="454.3" cy="160.4" r="2.9"/><circle cx="462.4" cy="161.5" r="2.9"/><circle cx="470.6" cy="160.5" r="2.9"/><circle cx="478.7" cy="161.9" r="2.9"/><circle cx="486.8" cy="162.0" r="2.9"/><circle cx="495.0" cy="163.4" r="2.9"/><circle cx="503.1" cy="163.7" r="2.9"/><circle cx="511.3" cy="164.2" r="2.9"/><circle cx="519.4" cy="165.0" r="2.9"/><circle cx="527.6" cy="167.4" r="2.9"/><circle cx="535.7" cy="165.9" r="2.9"/><circle cx="543.9" cy="167.1" r="2.9"/></g>
<path d="M319.3,198.5L320.5,198.2M327.3,196.0L328.7,195.6M335.5,193.1L336.9,192.6M343.6,190.3L345.0,189.8M351.9,188.1L353.0,187.9M360.1,187.3L361.1,187.3M368.1,186.3L369.3,186.0M376.3,184.1L377.5,183.8M384.6,182.7L385.5,182.6M392.6,183.4L393.8,183.8M400.7,183.8L401.9,183.4M409.0,181.9L410.0,181.7M417.1,181.6L418.1,181.7M425.3,181.7L426.2,181.6M433.4,181.5L434.4,181.5M441.6,181.4L442.5,181.3M449.7,180.9L450.7,180.9M457.9,180.9L458.8,180.9M466.0,181.0L467.0,181.0M474.1,181.5L475.1,181.7M482.3,182.3L483.2,182.3M490.4,181.5L491.5,181.3M498.6,180.8L499.5,180.8M506.6,181.9L507.8,182.1M514.8,182.5L515.9,182.4M523.0,182.1L524.0,182.1M531.1,182.9L532.2,183.1M539.3,183.3L540.3,183.3" fill="none" stroke="#ff0000" stroke-width="1.3"/>
<g fill="#ff0000"><circle cx="315.8" cy="199.4" r="2.9"/><circle cx="323.9" cy="197.2" r="2.9"/><circle cx="332.1" cy="194.3" r="2.9"/><circle cx="340.2" cy="191.4" r="2.9"/><circle cx="348.4" cy="188.7" r="2.9"/><circle cx="356.5" cy="187.3" r="2.9"/><circle cx="364.7" cy="187.3" r="2.9"/><circle cx="372.8" cy="185.0" r="2.9"/><circle cx="381.0" cy="182.9" r="2.9"/><circle cx="389.1" cy="182.4" r="2.9"/><circle cx="397.2" cy="184.8" r="2.9"/><circle cx="405.4" cy="182.4" r="2.9"/><circle cx="413.5" cy="181.2" r="2.9"/><circle cx="421.7" cy="182.1" r="2.9"/><circle cx="429.8" cy="181.3" r="2.9"/><circle cx="438.0" cy="181.7" r="2.9"/><circle cx="446.1" cy="180.9" r="2.9"/><circle cx="454.3" cy="180.9" r="2.9"/><circle cx="462.4" cy="180.9" r="2.9"/><circle cx="470.6" cy="181.0" r="2.9"/><circle cx="478.7" cy="182.3" r="2.9"/><circle cx="486.8" cy="182.3" r="2.9"/><circle cx="495.0" cy="180.6" r="2.9"/><circle cx="503.1" cy="181.0" r="2.9"/><circle cx="511.3" cy="183.0" r="2.9"/><circle cx="519.4" cy="181.9" r="2.9"/><circle cx="527.6" cy="182.3" r="2.9"/><circle cx="535.7" cy="183.6" r="2.9"/><circle cx="543.9" cy="183.0" r="2.9"/></g>
<path d="M319.4,199.3L320.3,199.2M327.5,198.9L328.5,198.9M335.7,198.7L336.6,198.6M343.8,197.9L344.8,197.8M352.0,197.7L352.9,197.8M360.1,197.9L361.1,197.8M368.2,197.0L369.2,196.9M376.4,196.0L377.4,195.9M384.5,195.1L385.5,195.0M392.6,195.6L393.8,195.9M400.7,196.0L401.9,195.8M409.0,194.8L409.9,194.8M417.1,194.8L418.1,194.8M425.3,194.5L426.2,194.4M433.4,194.1L434.4,194.1M441.6,194.0L442.5,194.0M449.7,194.2L450.7,194.3M457.8,194.2L458.8,194.1M466.0,193.8L467.0,193.8M474.2,193.7L475.1,193.6M482.3,193.7L483.2,193.8M490.4,193.9L491.4,193.9M498.6,194.0L499.5,194.1M506.7,194.4L507.7,194.5M514.9,194.6L515.8,194.6M523.0,194.3L524.0,194.3M531.1,194.5L532.2,194.7M539.3,195.0L540.3,194.9" fill="none" stroke="#008000" stroke-width="1.3"/>
<g fill="#008000"><circle cx="315.8" cy="199.4" r="2.9"/><circle cx="323.9" cy="199.0" r="2.9"/><circle cx="332.1" cy="198.8" r="2.9"/><circle cx="340.2" cy="198.4" r="2.9"/><circle cx="348.4" cy="197.2" r="2.9"/><circle cx="356.5" cy="198.2" r="2.9"/><circle cx="364.7" cy="197.5" r="2.9"/><circle cx="372.8" cy="196.4" r="2.9"/><circle cx="381.0" cy="195.5" r="2.9"/><circle cx="389.1" cy="194.7" r="2.9"/><circle cx="397.2" cy="196.9" r="2.9"/><circle cx="405.4" cy="194.9" r="2.9"/><circle cx="413.5" cy="194.7" r="2.9"/><circle cx="421.7" cy="194.9" r="2.9"/><circle cx="429.8" cy="194.1" r="2.9"/><circle cx="438.0" cy="194.1" r="2.9"/><circle cx="446.1" cy="194.0" r="2.9"/><circle cx="454.3" cy="194.5" r="2.9"/><circle cx="462.4" cy="193.7" r="2.9"/><circle cx="470.6" cy="193.8" r="2.9"/><circle cx="478.7" cy="193.5" r="2.9"/><circle cx="486.8" cy="194.0" r="2.9"/><circle cx="495.0" cy="193.8" r="2.9"/><circle cx="503.1" cy="194.3" r="2.9"/><circle cx="511.3" cy="194.6" r="2.9"/><circle cx="519.4" cy="194.6" r="2.9"/><circle cx="527.6" cy="194.0" r="2.9"/><circle cx="535.7" cy="195.2" r="2.9"/><circle cx="543.9" cy="194.6" r="2.9"/></g>
<polyline points="315.8,199.4 332.1,199.4 348.4,199.5 364.7,199.7 381.0,200.2 397.2,199.9 413.5,200.2 429.8,199.6 446.1,199.3 462.4,200.0 478.7,200.5 495.0,200.8 511.3,199.9 527.6,202.5 543.9,202.7" fill="none" stroke="#008080" stroke-width="1.7" stroke-linejoin="round"/>
<g fill="#008080"><circle cx="315.8" cy="199.4" r="2.9"/><circle cx="332.1" cy="199.4" r="2.9"/><circle cx="348.4" cy="199.5" r="2.9"/><circle cx="364.7" cy="199.7" r="2.9"/><circle cx="381.0" cy="200.2" r="2.9"/><circle cx="397.2" cy="199.9" r="2.9"/><circle cx="413.5" cy="200.2" r="2.9"/><circle cx="429.8" cy="199.6" r="2.9"/><circle cx="446.1" cy="199.3" r="2.9"/><circle cx="462.4" cy="200.0" r="2.9"/><circle cx="478.7" cy="200.5" r="2.9"/><circle cx="495.0" cy="200.8" r="2.9"/><circle cx="511.3" cy="199.9" r="2.9"/><circle cx="527.6" cy="202.5" r="2.9"/><circle cx="543.9" cy="202.7" r="2.9"/></g>
<polyline points="315.8,199.4 332.1,199.1 348.4,198.7 364.7,198.2 381.0,199.0 397.2,197.8 413.5,198.2 429.8,197.6 446.1,198.2 462.4,197.8 478.7,196.5 495.0,198.1 511.3,198.3 527.6,198.0 543.9,200.9" fill="none" stroke="#0000ff" stroke-width="1.7" stroke-linejoin="round"/>
<g fill="#0000ff"><circle cx="315.8" cy="199.4" r="2.9"/><circle cx="332.1" cy="199.1" r="2.9"/><circle cx="348.4" cy="198.7" r="2.9"/><circle cx="364.7" cy="198.2" r="2.9"/><circle cx="381.0" cy="199.0" r="2.9"/><circle cx="397.2" cy="197.8" r="2.9"/><circle cx="413.5" cy="198.2" r="2.9"/><circle cx="429.8" cy="197.6" r="2.9"/><circle cx="446.1" cy="198.2" r="2.9"/><circle cx="462.4" cy="197.8" r="2.9"/><circle cx="478.7" cy="196.5" r="2.9"/><circle cx="495.0" cy="198.1" r="2.9"/><circle cx="511.3" cy="198.3" r="2.9"/><circle cx="527.6" cy="198.0" r="2.9"/><circle cx="543.9" cy="200.9" r="2.9"/></g>
<polyline points="315.8,199.4 323.9,199.6 332.1,199.7 348.4,200.2 364.7,200.6 381.0,201.1 397.2,201.6 413.5,202.0 429.8,202.0 446.1,202.5 462.4,202.9 478.7,202.5 495.0,203.5 511.3,203.5 527.6,204.4 543.9,204.7" fill="none" stroke="#ff00ff" stroke-width="1.6" stroke-linejoin="round"/>
<g fill="#ff00ff"><circle cx="315.8" cy="199.4" r="2.9"/><circle cx="323.9" cy="199.6" r="2.9"/><circle cx="332.1" cy="199.7" r="2.9"/><circle cx="348.4" cy="200.2" r="2.9"/><circle cx="364.7" cy="200.6" r="2.9"/><circle cx="381.0" cy="201.1" r="2.9"/><circle cx="397.2" cy="201.6" r="2.9"/><circle cx="413.5" cy="202.0" r="2.9"/><circle cx="429.8" cy="202.0" r="2.9"/><circle cx="446.1" cy="202.5" r="2.9"/><circle cx="462.4" cy="202.9" r="2.9"/><circle cx="478.7" cy="202.5" r="2.9"/><circle cx="495.0" cy="203.5" r="2.9"/><circle cx="511.3" cy="203.5" r="2.9"/><circle cx="527.6" cy="204.4" r="2.9"/><circle cx="543.9" cy="204.7" r="2.9"/></g>
<polyline points="315.8,199.4 332.1,199.7 348.4,200.3 364.7,200.9 381.0,201.4 397.2,201.7 413.5,202.8 429.8,203.2 446.1,203.5 462.4,203.7 478.7,203.8 495.0,204.4 511.3,205.2 527.6,206.0 543.9,206.9" fill="none" stroke="#808000" stroke-width="1.6" stroke-linejoin="round"/>
<g fill="#808000"><circle cx="315.8" cy="199.4" r="2.9"/><circle cx="332.1" cy="199.7" r="2.9"/><circle cx="348.4" cy="200.3" r="2.9"/><circle cx="364.7" cy="200.9" r="2.9"/><circle cx="381.0" cy="201.4" r="2.9"/><circle cx="397.2" cy="201.7" r="2.9"/><circle cx="413.5" cy="202.8" r="2.9"/><circle cx="429.8" cy="203.2" r="2.9"/><circle cx="446.1" cy="203.5" r="2.9"/><circle cx="462.4" cy="203.7" r="2.9"/><circle cx="478.7" cy="203.8" r="2.9"/><circle cx="495.0" cy="204.4" r="2.9"/><circle cx="511.3" cy="205.2" r="2.9"/><circle cx="527.6" cy="206.0" r="2.9"/><circle cx="543.9" cy="206.9" r="2.9"/></g>
</g>
<g clip-path="url(#cp3)">
<polyline points="595.1,199.2 627.6,199.2 660.2,199.2 692.7,199.2 725.3,199.2 757.8,199.2 790.3,199.2 822.9,199.2" fill="none" stroke="#c08090" stroke-width="1.6"/>
<g fill="#909040"><circle cx="595.1" cy="199.9" r="3.3"/><circle cx="627.6" cy="199.9" r="3.3"/><circle cx="660.2" cy="199.9" r="3.3"/><circle cx="692.7" cy="199.9" r="3.3"/><circle cx="725.3" cy="199.9" r="3.3"/><circle cx="757.8" cy="199.9" r="3.3"/><circle cx="790.3" cy="199.9" r="3.3"/><circle cx="822.9" cy="199.9" r="3.3"/></g>
<polyline points="595.1,199.9 627.6,199.9 660.2,199.9 692.7,199.9 725.3,199.9 757.8,199.9 790.3,199.9 822.9,199.9" fill="none" stroke="#008080" stroke-width="2.2" stroke-linejoin="round"/>
<g fill="#008080"><circle cx="595.1" cy="199.9" r="2.9"/><circle cx="627.6" cy="199.9" r="2.9"/><circle cx="660.2" cy="199.9" r="2.9"/><circle cx="692.7" cy="199.9" r="2.9"/><circle cx="725.3" cy="199.9" r="2.9"/><circle cx="757.8" cy="199.9" r="2.9"/><circle cx="790.3" cy="199.9" r="2.9"/><circle cx="822.9" cy="199.9" r="2.9"/></g>
</g>
<text transform="translate(378.94,295.20) scale(0.2198,0.1810)" font-size="100" fill="#000">Magnetic Field (T)</text>
<text transform="translate(14.99,148.73) rotate(-90) scale(0.2081,0.2062)" font-size="100" fill="#000">e</text>
<text transform="translate(24.02,140.32) rotate(-90) scale(0.1196,0.1156)" font-size="100" fill="#000">y</text>
<text transform="translate(15.37,129.61) rotate(-90) scale(0.2014,0.2154)" font-size="100" fill="#000">(μV/K)</text>
<text transform="translate(53.10,25.60) scale(0.1990,0.1720)" font-size="100" fill="#000">0% Ni</text>
<text transform="translate(51.60,44.90) scale(0.1990,0.1720)" font-size="100" fill="#000">T</text>
<text transform="translate(62.85,51.90) scale(0.1280,0.1180)" font-size="100" fill="#000" font-weight="bold">c</text>
<text transform="translate(73.20,46.00) scale(0.1990,0.1720)" font-size="100" fill="#000">~</text>
<text transform="translate(89.21,44.90) scale(0.1990,0.1720)" font-size="100" fill="#000">53K</text>
<text transform="translate(327.40,23.90) scale(0.1990,0.1720)" font-size="100" fill="#000">3% Ni</text>
<text transform="translate(318.80,40.40) scale(0.1990,0.1720)" font-size="100" fill="#000">T</text>
<text transform="translate(330.75,47.90) scale(0.1280,0.1180)" font-size="100" fill="#000" font-weight="bold">c</text>
<text transform="translate(340.90,41.30) scale(0.1990,0.1720)" font-size="100" fill="#000">~</text>
<text transform="translate(357.30,40.40) scale(0.1990,0.1720)" font-size="100" fill="#000">20K</text>
<text transform="translate(618.50,26.50) scale(0.1990,0.1720)" font-size="100" fill="#000">6% Ni</text>
<text transform="translate(684.20,26.40) scale(0.1990,0.1720)" font-size="100" fill="#000">T</text>
<text transform="translate(696.35,32.60) scale(0.1280,0.1180)" font-size="100" fill="#000" font-weight="bold">c</text>
<text transform="translate(705.90,26.00) scale(0.1990,0.1720)" font-size="100" fill="#000">&lt;</text>
<text transform="translate(722.90,26.40) scale(0.1990,0.1720)" font-size="100" fill="#000">2K</text>
<text transform="translate(274.28,29.90) scale(0.1650,0.1440)" font-size="100" fill="#ff0000">30K</text>
<text transform="translate(274.81,103.60) scale(0.1650,0.1440)" font-size="100" fill="#000000">15</text>
<text transform="translate(274.57,147.60) scale(0.1650,0.1440)" font-size="100" fill="#008000">45</text>
<text transform="translate(275.16,197.90) scale(0.1650,0.1440)" font-size="100" fill="#808080">200</text>
<text transform="translate(274.62,209.70) scale(0.1650,0.1440)" font-size="100" fill="#ff8000">150</text>
<text transform="translate(276.91,220.80) scale(0.1650,0.1440)" font-size="100" fill="#0000ff">57</text>
<text transform="translate(275.12,232.40) scale(0.1650,0.1440)" font-size="100" fill="#808000">120</text>
<text transform="translate(277.16,243.00) scale(0.1650,0.1440)" font-size="100" fill="#008080">60</text>
<text transform="translate(276.83,253.10) scale(0.1650,0.1440)" font-size="100" fill="#ff00ff">70</text>
<text transform="translate(551.76,161.80) scale(0.1650,0.1440)" font-size="100" fill="#000000">20K</text>
<text transform="translate(557.27,178.10) scale(0.1650,0.1440)" font-size="100" fill="#ff0000">30</text>
<text transform="translate(558.07,190.50) scale(0.1650,0.1440)" font-size="100" fill="#008000">40</text>
<text transform="translate(559.57,204.60) scale(0.1650,0.1440)" font-size="100" fill="#0000ff">45</text>
<text transform="translate(560.11,217.10) scale(0.1650,0.1440)" font-size="100" fill="#008080">50</text>
<text transform="translate(559.86,228.10) scale(0.1650,0.1440)" font-size="100" fill="#ff00ff">60</text>
<text transform="translate(559.94,242.00) scale(0.1650,0.1440)" font-size="100" fill="#808000">80</text>
<polyline points="402.8,103.5 408.1,89.5 413.3,79.5 418.6,68.2 423.8,60.2 429.1,52.7 434.3,42.6 439.6,42.5 444.8,33.7 450.1,28.9 455.3,27.3 460.6,23.0 465.8,21.2 471.1,20.4 476.3,18.8 481.6,16.4 486.8,21.4 492.1,20.1 497.3,22.5 502.6,20.4 507.8,23.3 513.0,23.6 518.3,26.5 523.5,27.1 528.8,28.3 534.0,30.0 539.3,35.0 544.5,32.0 549.8,34.5" fill="none" stroke="#000000" stroke-width="1.0" stroke-linejoin="round"/>
<g fill="#000000"><circle cx="402.8" cy="103.5" r="1.3"/><circle cx="408.1" cy="89.5" r="1.3"/><circle cx="413.3" cy="79.5" r="1.3"/><circle cx="418.6" cy="68.2" r="1.3"/><circle cx="423.8" cy="60.2" r="1.3"/><circle cx="429.1" cy="52.7" r="1.3"/><circle cx="434.3" cy="42.6" r="1.3"/><circle cx="439.6" cy="42.5" r="1.3"/><circle cx="444.8" cy="33.7" r="1.3"/><circle cx="450.1" cy="28.9" r="1.3"/><circle cx="455.3" cy="27.3" r="1.3"/><circle cx="460.6" cy="23.0" r="1.3"/><circle cx="465.8" cy="21.2" r="1.3"/><circle cx="471.1" cy="20.4" r="1.3"/><circle cx="476.3" cy="18.8" r="1.3"/><circle cx="481.6" cy="16.4" r="1.3"/><circle cx="486.8" cy="21.4" r="1.3"/><circle cx="492.1" cy="20.1" r="1.3"/><circle cx="497.3" cy="22.5" r="1.3"/><circle cx="502.6" cy="20.4" r="1.3"/><circle cx="507.8" cy="23.3" r="1.3"/><circle cx="513.0" cy="23.6" r="1.3"/><circle cx="518.3" cy="26.5" r="1.3"/><circle cx="523.5" cy="27.1" r="1.3"/><circle cx="528.8" cy="28.3" r="1.3"/><circle cx="534.0" cy="30.0" r="1.3"/><circle cx="539.3" cy="35.0" r="1.3"/><circle cx="544.5" cy="32.0" r="1.3"/><circle cx="549.8" cy="34.5" r="1.3"/></g>
<polyline points="402.8,103.5 408.1,98.8 413.3,92.6 418.6,86.3 423.8,80.5 429.1,77.5 434.3,77.5 439.6,72.8 444.8,68.2 450.1,67.2 455.3,72.2 460.6,67.2 465.8,64.5 471.1,66.5 476.3,64.7 481.6,65.7 486.8,64.0 492.1,64.0 497.3,64.0 502.6,64.1 507.8,66.8 513.0,66.8 518.3,63.3 523.5,64.1 528.8,68.4 534.0,66.0 539.3,67.0 544.5,69.7 549.8,68.4" fill="none" stroke="#ff0000" stroke-width="1.0" stroke-linejoin="round"/>
<g fill="#ff0000"><circle cx="402.8" cy="103.5" r="1.3"/><circle cx="408.1" cy="98.8" r="1.3"/><circle cx="413.3" cy="92.6" r="1.3"/><circle cx="418.6" cy="86.3" r="1.3"/><circle cx="423.8" cy="80.5" r="1.3"/><circle cx="429.1" cy="77.5" r="1.3"/><circle cx="434.3" cy="77.5" r="1.3"/><circle cx="439.6" cy="72.8" r="1.3"/><circle cx="444.8" cy="68.2" r="1.3"/><circle cx="450.1" cy="67.2" r="1.3"/><circle cx="455.3" cy="72.2" r="1.3"/><circle cx="460.6" cy="67.2" r="1.3"/><circle cx="465.8" cy="64.5" r="1.3"/><circle cx="471.1" cy="66.5" r="1.3"/><circle cx="476.3" cy="64.7" r="1.3"/><circle cx="481.6" cy="65.7" r="1.3"/><circle cx="486.8" cy="64.0" r="1.3"/><circle cx="492.1" cy="64.0" r="1.3"/><circle cx="497.3" cy="64.0" r="1.3"/><circle cx="502.6" cy="64.1" r="1.3"/><circle cx="507.8" cy="66.8" r="1.3"/><circle cx="513.0" cy="66.8" r="1.3"/><circle cx="518.3" cy="63.3" r="1.3"/><circle cx="523.5" cy="64.1" r="1.3"/><circle cx="528.8" cy="68.4" r="1.3"/><circle cx="534.0" cy="66.0" r="1.3"/><circle cx="539.3" cy="67.0" r="1.3"/><circle cx="544.5" cy="69.7" r="1.3"/><circle cx="549.8" cy="68.4" r="1.3"/></g>
<polyline points="402.8,103.5 408.1,102.6 413.3,102.2 418.6,101.3 423.8,98.8 429.1,100.8 434.3,99.3 439.6,97.0 444.8,95.0 450.1,93.3 455.3,98.0 460.6,93.8 465.8,93.3 471.1,93.8 476.3,92.0 481.6,92.0 486.8,91.8 492.1,93.0 497.3,91.3 502.6,91.4 507.8,90.9 513.0,91.8 518.3,91.4 523.5,92.5 528.8,93.2 534.0,93.2 539.3,91.8 544.5,94.5 549.8,93.2" fill="none" stroke="#008000" stroke-width="1.0" stroke-linejoin="round"/>
<g fill="#008000"><circle cx="402.8" cy="103.5" r="1.3"/><circle cx="408.1" cy="102.6" r="1.3"/><circle cx="413.3" cy="102.2" r="1.3"/><circle cx="418.6" cy="101.3" r="1.3"/><circle cx="423.8" cy="98.8" r="1.3"/><circle cx="429.1" cy="100.8" r="1.3"/><circle cx="434.3" cy="99.3" r="1.3"/><circle cx="439.6" cy="97.0" r="1.3"/><circle cx="444.8" cy="95.0" r="1.3"/><circle cx="450.1" cy="93.3" r="1.3"/><circle cx="455.3" cy="98.0" r="1.3"/><circle cx="460.6" cy="93.8" r="1.3"/><circle cx="465.8" cy="93.3" r="1.3"/><circle cx="471.1" cy="93.8" r="1.3"/><circle cx="476.3" cy="92.0" r="1.3"/><circle cx="481.6" cy="92.0" r="1.3"/><circle cx="486.8" cy="91.8" r="1.3"/><circle cx="492.1" cy="93.0" r="1.3"/><circle cx="497.3" cy="91.3" r="1.3"/><circle cx="502.6" cy="91.4" r="1.3"/><circle cx="507.8" cy="90.9" r="1.3"/><circle cx="513.0" cy="91.8" r="1.3"/><circle cx="518.3" cy="91.4" r="1.3"/><circle cx="523.5" cy="92.5" r="1.3"/><circle cx="528.8" cy="93.2" r="1.3"/><circle cx="534.0" cy="93.2" r="1.3"/><circle cx="539.3" cy="91.8" r="1.3"/><circle cx="544.5" cy="94.5" r="1.3"/><circle cx="549.8" cy="93.2" r="1.3"/></g>
<polyline points="402.8,103.5 413.3,102.8 423.8,101.8 434.3,100.8 444.8,102.6 455.3,100.0 465.8,100.8 476.3,99.6 486.8,100.8 497.3,100.0 507.8,97.1 518.3,100.7 528.8,101.1 539.3,100.3 549.8,106.5" fill="none" stroke="#0000ff" stroke-width="1.0" stroke-linejoin="round"/>
<g fill="#0000ff"><circle cx="402.8" cy="103.5" r="1.3"/><circle cx="413.3" cy="102.8" r="1.3"/><circle cx="423.8" cy="101.8" r="1.3"/><circle cx="434.3" cy="100.8" r="1.3"/><circle cx="444.8" cy="102.6" r="1.3"/><circle cx="455.3" cy="100.0" r="1.3"/><circle cx="465.8" cy="100.8" r="1.3"/><circle cx="476.3" cy="99.6" r="1.3"/><circle cx="486.8" cy="100.8" r="1.3"/><circle cx="497.3" cy="100.0" r="1.3"/><circle cx="507.8" cy="97.1" r="1.3"/><circle cx="518.3" cy="100.7" r="1.3"/><circle cx="528.8" cy="101.1" r="1.3"/><circle cx="539.3" cy="100.3" r="1.3"/><circle cx="549.8" cy="106.5" r="1.3"/></g>
<polyline points="402.8,103.5 413.3,103.5 423.8,103.6 434.3,104.0 444.8,105.1 455.3,104.4 465.8,105.1 476.3,103.9 486.8,103.1 497.3,104.6 507.8,105.7 518.3,106.3 528.8,104.5 539.3,110.1 549.8,110.4" fill="none" stroke="#008080" stroke-width="1.0" stroke-linejoin="round"/>
<g fill="#008080"><circle cx="402.8" cy="103.5" r="1.3"/><circle cx="413.3" cy="103.5" r="1.3"/><circle cx="423.8" cy="103.6" r="1.3"/><circle cx="434.3" cy="104.0" r="1.3"/><circle cx="444.8" cy="105.1" r="1.3"/><circle cx="455.3" cy="104.4" r="1.3"/><circle cx="465.8" cy="105.1" r="1.3"/><circle cx="476.3" cy="103.9" r="1.3"/><circle cx="486.8" cy="103.1" r="1.3"/><circle cx="497.3" cy="104.6" r="1.3"/><circle cx="507.8" cy="105.7" r="1.3"/><circle cx="518.3" cy="106.3" r="1.3"/><circle cx="528.8" cy="104.5" r="1.3"/><circle cx="539.3" cy="110.1" r="1.3"/><circle cx="549.8" cy="110.4" r="1.3"/></g>
<polyline points="402.8,103.5 413.3,104.0 423.8,105.0 434.3,106.0 444.8,107.1 455.3,108.1 465.8,108.9 476.3,108.9 486.8,110.1 497.3,110.9 507.8,110.1 518.3,112.1 528.8,112.1 539.3,114.1 549.8,114.8" fill="none" stroke="#ff00ff" stroke-width="1.0" stroke-linejoin="round"/>
<g fill="#ff00ff"><circle cx="402.8" cy="103.5" r="1.3"/><circle cx="413.3" cy="104.0" r="1.3"/><circle cx="423.8" cy="105.0" r="1.3"/><circle cx="434.3" cy="106.0" r="1.3"/><circle cx="444.8" cy="107.1" r="1.3"/><circle cx="455.3" cy="108.1" r="1.3"/><circle cx="465.8" cy="108.9" r="1.3"/><circle cx="476.3" cy="108.9" r="1.3"/><circle cx="486.8" cy="110.1" r="1.3"/><circle cx="497.3" cy="110.9" r="1.3"/><circle cx="507.8" cy="110.1" r="1.3"/><circle cx="518.3" cy="112.1" r="1.3"/><circle cx="528.8" cy="112.1" r="1.3"/><circle cx="539.3" cy="114.1" r="1.3"/><circle cx="549.8" cy="114.8" r="1.3"/></g>
<polyline points="402.8,103.5 413.3,104.0 423.8,105.3 434.3,106.5 444.8,107.6 455.3,108.4 465.8,110.6 476.3,111.4 486.8,112.1 497.3,112.6 507.8,112.8 518.3,114.1 528.8,115.8 539.3,117.5 549.8,119.5" fill="none" stroke="#808000" stroke-width="1.0" stroke-linejoin="round"/>
<g fill="#808000"><circle cx="402.8" cy="103.5" r="1.3"/><circle cx="413.3" cy="104.0" r="1.3"/><circle cx="423.8" cy="105.3" r="1.3"/><circle cx="434.3" cy="106.5" r="1.3"/><circle cx="444.8" cy="107.6" r="1.3"/><circle cx="455.3" cy="108.4" r="1.3"/><circle cx="465.8" cy="110.6" r="1.3"/><circle cx="476.3" cy="111.4" r="1.3"/><circle cx="486.8" cy="112.1" r="1.3"/><circle cx="497.3" cy="112.6" r="1.3"/><circle cx="507.8" cy="112.8" r="1.3"/><circle cx="518.3" cy="114.1" r="1.3"/><circle cx="528.8" cy="115.8" r="1.3"/><circle cx="539.3" cy="117.5" r="1.3"/><circle cx="549.8" cy="119.5" r="1.3"/></g>
<rect x="402.8" y="9.7" width="178.40" height="118.00" fill="none" stroke="#000" stroke-width="1.1"/>
<line x1="413.30" y1="127.70" x2="413.30" y2="126.00" stroke="#000" stroke-width="0.9"/>
<line x1="413.30" y1="9.70" x2="413.30" y2="11.40" stroke="#000" stroke-width="0.9"/>
<line x1="423.80" y1="127.70" x2="423.80" y2="126.00" stroke="#000" stroke-width="0.9"/>
<line x1="423.80" y1="9.70" x2="423.80" y2="11.40" stroke="#000" stroke-width="0.9"/>
<line x1="434.30" y1="127.70" x2="434.30" y2="126.00" stroke="#000" stroke-width="0.9"/>
<line x1="434.30" y1="9.70" x2="434.30" y2="11.40" stroke="#000" stroke-width="0.9"/>
<line x1="444.80" y1="127.70" x2="444.80" y2="124.50" stroke="#000" stroke-width="0.9"/>
<line x1="444.80" y1="9.70" x2="444.80" y2="12.90" stroke="#000" stroke-width="0.9"/>
<line x1="455.30" y1="127.70" x2="455.30" y2="126.00" stroke="#000" stroke-width="0.9"/>
<line x1="455.30" y1="9.70" x2="455.30" y2="11.40" stroke="#000" stroke-width="0.9"/>
<line x1="465.80" y1="127.70" x2="465.80" y2="126.00" stroke="#000" stroke-width="0.9"/>
<line x1="465.80" y1="9.70" x2="465.80" y2="11.40" stroke="#000" stroke-width="0.9"/>
<line x1="476.30" y1="127.70" x2="476.30" y2="126.00" stroke="#000" stroke-width="0.9"/>
<line x1="476.30" y1="9.70" x2="476.30" y2="11.40" stroke="#000" stroke-width="0.9"/>
<line x1="486.80" y1="127.70" x2="486.80" y2="124.50" stroke="#000" stroke-width="0.9"/>
<line x1="486.80" y1="9.70" x2="486.80" y2="12.90" stroke="#000" stroke-width="0.9"/>
<line x1="497.30" y1="127.70" x2="497.30" y2="126.00" stroke="#000" stroke-width="0.9"/>
<line x1="497.30" y1="9.70" x2="497.30" y2="11.40" stroke="#000" stroke-width="0.9"/>
<line x1="507.80" y1="127.70" x2="507.80" y2="126.00" stroke="#000" stroke-width="0.9"/>
<line x1="507.80" y1="9.70" x2="507.80" y2="11.40" stroke="#000" stroke-width="0.9"/>
<line x1="518.30" y1="127.70" x2="518.30" y2="126.00" stroke="#000" stroke-width="0.9"/>
<line x1="518.30" y1="9.70" x2="518.30" y2="11.40" stroke="#000" stroke-width="0.9"/>
<line x1="528.80" y1="127.70" x2="528.80" y2="124.50" stroke="#000" stroke-width="0.9"/>
<line x1="528.80" y1="9.70" x2="528.80" y2="12.90" stroke="#000" stroke-width="0.9"/>
<line x1="539.30" y1="127.70" x2="539.30" y2="126.00" stroke="#000" stroke-width="0.9"/>
<line x1="539.30" y1="9.70" x2="539.30" y2="11.40" stroke="#000" stroke-width="0.9"/>
<line x1="549.80" y1="127.70" x2="549.80" y2="126.00" stroke="#000" stroke-width="0.9"/>
<line x1="549.80" y1="9.70" x2="549.80" y2="11.40" stroke="#000" stroke-width="0.9"/>
<line x1="560.30" y1="127.70" x2="560.30" y2="126.00" stroke="#000" stroke-width="0.9"/>
<line x1="560.30" y1="9.70" x2="560.30" y2="11.40" stroke="#000" stroke-width="0.9"/>
<line x1="570.80" y1="127.70" x2="570.80" y2="124.50" stroke="#000" stroke-width="0.9"/>
<line x1="570.80" y1="9.70" x2="570.80" y2="12.90" stroke="#000" stroke-width="0.9"/>
<line x1="402.80" y1="103.50" x2="406.20" y2="103.50" stroke="#000" stroke-width="0.9"/>
<line x1="581.20" y1="103.50" x2="577.80" y2="103.50" stroke="#000" stroke-width="0.9"/>
<line x1="402.80" y1="79.95" x2="404.60" y2="79.95" stroke="#000" stroke-width="0.9"/>
<line x1="581.20" y1="79.95" x2="579.40" y2="79.95" stroke="#000" stroke-width="0.9"/>
<line x1="402.80" y1="56.40" x2="406.20" y2="56.40" stroke="#000" stroke-width="0.9"/>
<line x1="581.20" y1="56.40" x2="577.80" y2="56.40" stroke="#000" stroke-width="0.9"/>
<line x1="402.80" y1="32.85" x2="404.60" y2="32.85" stroke="#000" stroke-width="0.9"/>
<line x1="581.20" y1="32.85" x2="579.40" y2="32.85" stroke="#000" stroke-width="0.9"/>
<text transform="translate(400.10,138.20) scale(0.1080,0.0960)" font-size="100" fill="#000">0</text>
<text transform="translate(442.07,138.20) scale(0.1080,0.0960)" font-size="100" fill="#000">4</text>
<text transform="translate(484.10,138.20) scale(0.1080,0.0960)" font-size="100" fill="#000">8</text>
<text transform="translate(523.21,138.20) scale(0.1080,0.0960)" font-size="100" fill="#000">12</text>
<text transform="translate(565.08,138.20) scale(0.1080,0.0960)" font-size="100" fill="#000">16</text>
<text transform="translate(393.89,11.80) scale(0.1080,0.0960)" font-size="100" fill="#000">2</text>
<text transform="translate(393.95,58.90) scale(0.1080,0.0960)" font-size="100" fill="#000">1</text>
<text transform="translate(393.73,106.40) scale(0.1080,0.0960)" font-size="100" fill="#000">0</text>
<text transform="translate(488.40,148.00) scale(0.1330,0.1180)" font-size="100" fill="#000">B(T)</text>
<text transform="translate(381.87,81.68) rotate(-90) scale(0.1459,0.1333)" font-size="100" fill="#000">e</text>
<text transform="translate(387.09,75.82) rotate(-90) scale(0.1175,0.0889)" font-size="100" fill="#000">y</text>
<text transform="translate(554.53,36.50) scale(0.1270,0.1140)" font-size="100" fill="#000000">20K</text>
<text transform="translate(555.57,71.30) scale(0.1270,0.1140)" font-size="100" fill="#ff0000">30</text>
<text transform="translate(557.05,87.10) scale(0.1270,0.1140)" font-size="100" fill="#008000">40</text>
<text transform="translate(557.05,99.80) scale(0.1270,0.1140)" font-size="100" fill="#0000ff">45</text>
<text transform="translate(556.54,108.30) scale(0.1270,0.1140)" font-size="100" fill="#008080">50</text>
<text transform="translate(556.73,116.10) scale(0.1270,0.1140)" font-size="100" fill="#ff00ff">60</text>
<text transform="translate(555.99,126.10) scale(0.1270,0.1140)" font-size="100" fill="#808000">80</text>
<polyline points="644.4,68.0 669.1,73.0 693.8,74.5 718.6,72.1 743.3,88.4 768.0,128.5 792.7,106.9 817.4,112.0" fill="none" stroke="#000000" stroke-width="1.0" stroke-linejoin="round"/>
<g fill="#000000"><circle cx="644.4" cy="68.0" r="1.3"/><circle cx="669.1" cy="73.0" r="1.3"/><circle cx="693.8" cy="74.5" r="1.3"/><circle cx="718.6" cy="72.1" r="1.3"/><circle cx="743.3" cy="88.4" r="1.3"/><circle cx="768.0" cy="128.5" r="1.3"/><circle cx="792.7" cy="106.9" r="1.3"/><circle cx="817.4" cy="112.0" r="1.3"/></g>
<polyline points="644.4,68.0 669.1,72.3 693.8,73.0 718.6,72.3 743.3,88.9 768.0,86.5 792.7,115.7 817.4,103.5" fill="none" stroke="#808080" stroke-width="1.0" stroke-linejoin="round"/>
<g fill="#808080"><circle cx="644.4" cy="68.0" r="1.3"/><circle cx="669.1" cy="72.3" r="1.3"/><circle cx="693.8" cy="73.0" r="1.3"/><circle cx="718.6" cy="72.3" r="1.3"/><circle cx="743.3" cy="88.9" r="1.3"/><circle cx="768.0" cy="86.5" r="1.3"/><circle cx="792.7" cy="115.7" r="1.3"/><circle cx="817.4" cy="103.5" r="1.3"/></g>
<polyline points="644.4,68.0 669.1,64.2 693.8,73.4 718.6,65.4 743.3,75.3 768.0,77.7 792.7,86.2 817.4,85.4" fill="none" stroke="#ff0000" stroke-width="1.0" stroke-linejoin="round"/>
<g fill="#ff0000"><circle cx="644.4" cy="68.0" r="1.3"/><circle cx="669.1" cy="64.2" r="1.3"/><circle cx="693.8" cy="73.4" r="1.3"/><circle cx="718.6" cy="65.4" r="1.3"/><circle cx="743.3" cy="75.3" r="1.3"/><circle cx="768.0" cy="77.7" r="1.3"/><circle cx="792.7" cy="86.2" r="1.3"/><circle cx="817.4" cy="85.4" r="1.3"/></g>
<polyline points="644.4,68.0 669.1,61.8 693.8,70.5 718.6,69.7 743.3,74.8 768.0,72.6 792.7,78.5 817.4,87.3" fill="none" stroke="#008000" stroke-width="1.0" stroke-linejoin="round"/>
<g fill="#008000"><circle cx="644.4" cy="68.0" r="1.3"/><circle cx="669.1" cy="61.8" r="1.3"/><circle cx="693.8" cy="70.5" r="1.3"/><circle cx="718.6" cy="69.7" r="1.3"/><circle cx="743.3" cy="74.8" r="1.3"/><circle cx="768.0" cy="72.6" r="1.3"/><circle cx="792.7" cy="78.5" r="1.3"/><circle cx="817.4" cy="87.3" r="1.3"/></g>
<polyline points="644.4,68.0 669.1,65.5 693.8,70.8 718.6,83.0 743.3,88.9 768.0,102.1 792.7,97.7 817.4,94.0" fill="none" stroke="#008080" stroke-width="1.0" stroke-linejoin="round"/>
<g fill="#008080"><circle cx="644.4" cy="68.0" r="1.3"/><circle cx="669.1" cy="65.5" r="1.3"/><circle cx="693.8" cy="70.8" r="1.3"/><circle cx="718.6" cy="83.0" r="1.3"/><circle cx="743.3" cy="88.9" r="1.3"/><circle cx="768.0" cy="102.1" r="1.3"/><circle cx="792.7" cy="97.7" r="1.3"/><circle cx="817.4" cy="94.0" r="1.3"/></g>
<polyline points="644.4,68.0 669.1,70.0 693.8,71.3 718.6,63.0 743.3,66.4 768.0,72.5 792.7,72.0 817.4,83.0" fill="none" stroke="#0000ff" stroke-width="1.0" stroke-linejoin="round"/>
<g fill="#0000ff"><circle cx="644.4" cy="68.0" r="1.3"/><circle cx="669.1" cy="70.0" r="1.3"/><circle cx="693.8" cy="71.3" r="1.3"/><circle cx="718.6" cy="63.0" r="1.3"/><circle cx="743.3" cy="66.4" r="1.3"/><circle cx="768.0" cy="72.5" r="1.3"/><circle cx="792.7" cy="72.0" r="1.3"/><circle cx="817.4" cy="83.0" r="1.3"/></g>
<polyline points="644.4,68.0 669.1,80.1 693.8,80.9 718.6,80.9 743.3,106.9 768.0,110.7 792.7,130.0 817.4,133.7" fill="none" stroke="#ff00ff" stroke-width="1.0" stroke-linejoin="round"/>
<g fill="#ff00ff"><circle cx="644.4" cy="68.0" r="1.3"/><circle cx="669.1" cy="80.1" r="1.3"/><circle cx="693.8" cy="80.9" r="1.3"/><circle cx="718.6" cy="80.9" r="1.3"/><circle cx="743.3" cy="106.9" r="1.3"/><circle cx="768.0" cy="110.7" r="1.3"/><circle cx="792.7" cy="130.0" r="1.3"/><circle cx="817.4" cy="133.7" r="1.3"/></g>
<polyline points="644.4,68.0 669.1,74.0 693.8,100.8 718.6,110.6 743.3,114.8 768.0,129.1 792.7,140.9 817.4,155.5" fill="none" stroke="#808000" stroke-width="1.0" stroke-linejoin="round"/>
<g fill="#808000"><circle cx="644.4" cy="68.0" r="1.3"/><circle cx="669.1" cy="74.0" r="1.3"/><circle cx="693.8" cy="100.8" r="1.3"/><circle cx="718.6" cy="110.6" r="1.3"/><circle cx="743.3" cy="114.8" r="1.3"/><circle cx="768.0" cy="129.1" r="1.3"/><circle cx="792.7" cy="140.9" r="1.3"/><circle cx="817.4" cy="155.5" r="1.3"/></g>
<polyline points="644.4,68.0 669.1,67.8 693.8,58.5 718.6,78.9 743.3,78.5 768.0,95.5 792.7,102.0 817.4,95.6" fill="none" stroke="#ff8000" stroke-width="1.0" stroke-linejoin="round"/>
<g fill="#ff8000"><circle cx="644.4" cy="68.0" r="1.3"/><circle cx="669.1" cy="67.8" r="1.3"/><circle cx="693.8" cy="58.5" r="1.3"/><circle cx="718.6" cy="78.9" r="1.3"/><circle cx="743.3" cy="78.5" r="1.3"/><circle cx="768.0" cy="95.5" r="1.3"/><circle cx="792.7" cy="102.0" r="1.3"/><circle cx="817.4" cy="95.6" r="1.3"/></g>
<rect x="644.4" y="34.4" width="210.30" height="133.60" fill="none" stroke="#000" stroke-width="1.1"/>
<line x1="656.76" y1="168.00" x2="656.76" y2="166.30" stroke="#000" stroke-width="0.9"/>
<line x1="656.76" y1="34.40" x2="656.76" y2="36.10" stroke="#000" stroke-width="0.9"/>
<line x1="669.12" y1="168.00" x2="669.12" y2="166.30" stroke="#000" stroke-width="0.9"/>
<line x1="669.12" y1="34.40" x2="669.12" y2="36.10" stroke="#000" stroke-width="0.9"/>
<line x1="681.48" y1="168.00" x2="681.48" y2="166.30" stroke="#000" stroke-width="0.9"/>
<line x1="681.48" y1="34.40" x2="681.48" y2="36.10" stroke="#000" stroke-width="0.9"/>
<line x1="693.84" y1="168.00" x2="693.84" y2="164.80" stroke="#000" stroke-width="0.9"/>
<line x1="693.84" y1="34.40" x2="693.84" y2="37.60" stroke="#000" stroke-width="0.9"/>
<line x1="706.20" y1="168.00" x2="706.20" y2="166.30" stroke="#000" stroke-width="0.9"/>
<line x1="706.20" y1="34.40" x2="706.20" y2="36.10" stroke="#000" stroke-width="0.9"/>
<line x1="718.56" y1="168.00" x2="718.56" y2="166.30" stroke="#000" stroke-width="0.9"/>
<line x1="718.56" y1="34.40" x2="718.56" y2="36.10" stroke="#000" stroke-width="0.9"/>
<line x1="730.92" y1="168.00" x2="730.92" y2="166.30" stroke="#000" stroke-width="0.9"/>
<line x1="730.92" y1="34.40" x2="730.92" y2="36.10" stroke="#000" stroke-width="0.9"/>
<line x1="743.28" y1="168.00" x2="743.28" y2="164.80" stroke="#000" stroke-width="0.9"/>
<line x1="743.28" y1="34.40" x2="743.28" y2="37.60" stroke="#000" stroke-width="0.9"/>
<line x1="755.64" y1="168.00" x2="755.64" y2="166.30" stroke="#000" stroke-width="0.9"/>
<line x1="755.64" y1="34.40" x2="755.64" y2="36.10" stroke="#000" stroke-width="0.9"/>
<line x1="768.00" y1="168.00" x2="768.00" y2="166.30" stroke="#000" stroke-width="0.9"/>
<line x1="768.00" y1="34.40" x2="768.00" y2="36.10" stroke="#000" stroke-width="0.9"/>
<line x1="780.36" y1="168.00" x2="780.36" y2="166.30" stroke="#000" stroke-width="0.9"/>
<line x1="780.36" y1="34.40" x2="780.36" y2="36.10" stroke="#000" stroke-width="0.9"/>
<line x1="792.72" y1="168.00" x2="792.72" y2="164.80" stroke="#000" stroke-width="0.9"/>
<line x1="792.72" y1="34.40" x2="792.72" y2="37.60" stroke="#000" stroke-width="0.9"/>
<line x1="805.08" y1="168.00" x2="805.08" y2="166.30" stroke="#000" stroke-width="0.9"/>
<line x1="805.08" y1="34.40" x2="805.08" y2="36.10" stroke="#000" stroke-width="0.9"/>
<line x1="817.44" y1="168.00" x2="817.44" y2="166.30" stroke="#000" stroke-width="0.9"/>
<line x1="817.44" y1="34.40" x2="817.44" y2="36.10" stroke="#000" stroke-width="0.9"/>
<line x1="829.80" y1="168.00" x2="829.80" y2="166.30" stroke="#000" stroke-width="0.9"/>
<line x1="829.80" y1="34.40" x2="829.80" y2="36.10" stroke="#000" stroke-width="0.9"/>
<line x1="842.16" y1="168.00" x2="842.16" y2="164.80" stroke="#000" stroke-width="0.9"/>
<line x1="842.16" y1="34.40" x2="842.16" y2="37.60" stroke="#000" stroke-width="0.9"/>
<line x1="644.40" y1="68.00" x2="648.00" y2="68.00" stroke="#000" stroke-width="0.9"/>
<line x1="854.70" y1="68.00" x2="851.10" y2="68.00" stroke="#000" stroke-width="0.9"/>
<line x1="644.40" y1="101.30" x2="646.20" y2="101.30" stroke="#000" stroke-width="0.9"/>
<line x1="854.70" y1="101.30" x2="852.90" y2="101.30" stroke="#000" stroke-width="0.9"/>
<line x1="644.40" y1="134.60" x2="648.00" y2="134.60" stroke="#000" stroke-width="0.9"/>
<line x1="854.70" y1="134.60" x2="851.10" y2="134.60" stroke="#000" stroke-width="0.9"/>
<text transform="translate(641.80,178.00) scale(0.1040,0.0860)" font-size="100" fill="#000">0</text>
<text transform="translate(691.49,178.00) scale(0.1040,0.0860)" font-size="100" fill="#000">4</text>
<text transform="translate(741.24,178.00) scale(0.1040,0.0860)" font-size="100" fill="#000">8</text>
<text transform="translate(788.18,178.00) scale(0.1040,0.0860)" font-size="100" fill="#000">12</text>
<text transform="translate(837.77,178.00) scale(0.1040,0.0860)" font-size="100" fill="#000">16</text>
<text transform="translate(622.49,70.30) scale(0.1030,0.0990)" font-size="100" fill="#000">0.00</text>
<text transform="translate(619.19,136.90) scale(0.1030,0.0990)" font-size="100" fill="#000">-0.02</text>
<text transform="translate(738.40,191.90) scale(0.1330,0.1180)" font-size="100" fill="#000">B(T)</text>
<text transform="translate(620.45,108.54) rotate(-90) scale(0.1351,0.1458)" font-size="100" fill="#000">e</text>
<text transform="translate(626.39,103.09) rotate(-90) scale(0.0928,0.0889)" font-size="100" fill="#000">y</text>
<text transform="translate(827.54,71.60) scale(0.1330,0.1310)" font-size="100" fill="#0000ff">70K</text>
<text transform="translate(827.10,82.50) scale(0.1330,0.1310)" font-size="100" fill="#008000">50</text>
<text transform="translate(828.13,90.50) scale(0.1330,0.1310)" font-size="100" fill="#ff0000">30</text>
<text transform="translate(829.60,99.00) scale(0.1330,0.1310)" font-size="100" fill="#008080">100</text>
<text transform="translate(828.13,107.30) scale(0.1330,0.1310)" font-size="100" fill="#ff8000">45</text>
<text transform="translate(827.60,117.30) scale(0.1330,0.1310)" font-size="100" fill="#808080">20</text>
<text transform="translate(828.70,127.30) scale(0.1330,0.1310)" font-size="100" fill="#000000">10</text>
<text transform="translate(829.10,138.40) scale(0.1330,0.1310)" font-size="100" fill="#ff00ff">125</text>
<text transform="translate(828.30,161.60) scale(0.1330,0.1310)" font-size="100" fill="#808000">150</text>
</svg>
</body></html>
